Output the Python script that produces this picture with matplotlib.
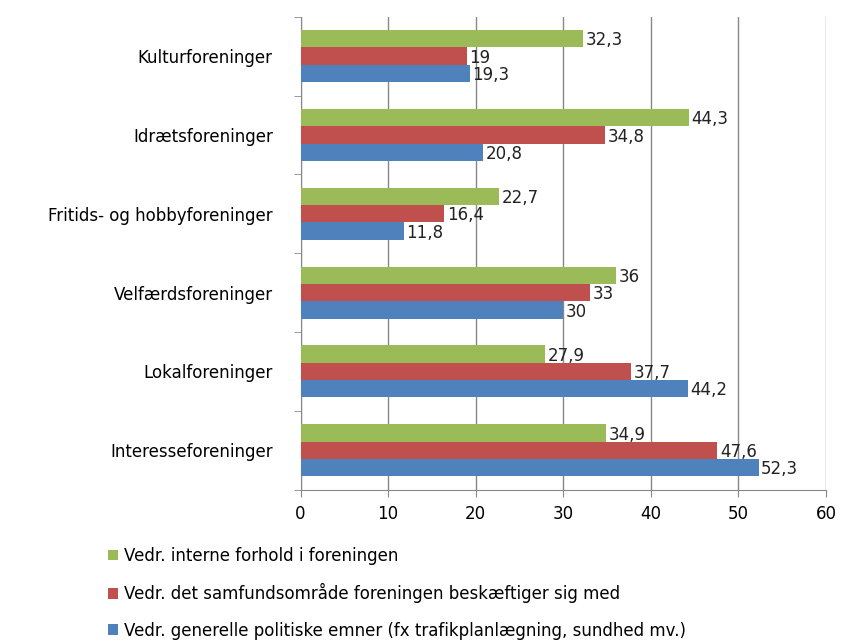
import numpy as np
import matplotlib.pyplot as plt

plt.rcParams['font.family'] = ['DejaVu Sans']

# categories listed bottom to top
categories = ["Interesseforeninger", "Lokalforeninger", "Velfærdsforeninger",
              "Fritids- og hobbyforeninger", "Idrætsforeninger", "Kulturforeninger"]
interne = [34.9, 27.9, 36, 22.7, 44.3, 32.3]
samfund = [47.6, 37.7, 33, 16.4, 34.8, 19]
politik = [52.3, 44.2, 30, 11.8, 20.8, 19.3]
labels = ["Vedr. interne forhold i foreningen",
          "Vedr. det samfundsområde foreningen beskæftiger sig med",
          "Vedr. generelle politiske emner (fx trafikplanlægning, sundhed mv.)"]
colors = ["#9BBB59", "#C0504D", "#4F81BD"]

fig = plt.figure(figsize=(8.42, 6.41), dpi=100)
ax = fig.add_axes([0.357, 0.236, 0.624, 0.738])

y = np.arange(len(categories))
h = 0.22
series = [interne, samfund, politik]
offsets = [h, 0, -h]
for vals, off, col, lab in zip(series, offsets, colors, labels):
    bars = ax.barh(y + off, vals, height=h, color=col, label=lab, zorder=3)
    for b, v in zip(bars, vals):
        txt = str(v).replace(".", ",")
        ax.text(b.get_width() + 0.3, b.get_y() + b.get_height() / 2 - 0.02, txt,
                va="center", ha="left", fontsize=12, color="#222222", zorder=4)

ax.set_xlim(0, 60)
ax.set_ylim(-0.5, len(categories) - 0.5)
ax.set_xticks(np.arange(0, 61, 10))
ax.set_yticks(y)
ax.set_yticklabels(categories)
ax.set_yticks(np.arange(-0.5, len(categories), 1), minor=True)
ax.tick_params(axis="y", which="major", length=0, pad=20, labelsize=12)
ax.tick_params(axis="y", which="minor", length=5, color="#888888")
ax.tick_params(axis="x", length=5, color="#888888", labelsize=12, pad=6)
ax.grid(axis="x", color="#888888", linewidth=1, zorder=0)
for s in ["top", "right"]:
    ax.spines[s].set_visible(False)
ax.spines["left"].set_color("#888888")
ax.spines["bottom"].set_color("#888888")

handles, labs = ax.get_legend_handles_labels()
fig.legend(handles, labs, loc="upper left", bbox_to_anchor=(0.128, 0.147),
           frameon=False, fontsize=12, handlelength=0.6, handleheight=0.6,
           handletextpad=0.4, labelspacing=1.1, borderaxespad=0, borderpad=0)

fig.savefig("out.png", dpi=100)
